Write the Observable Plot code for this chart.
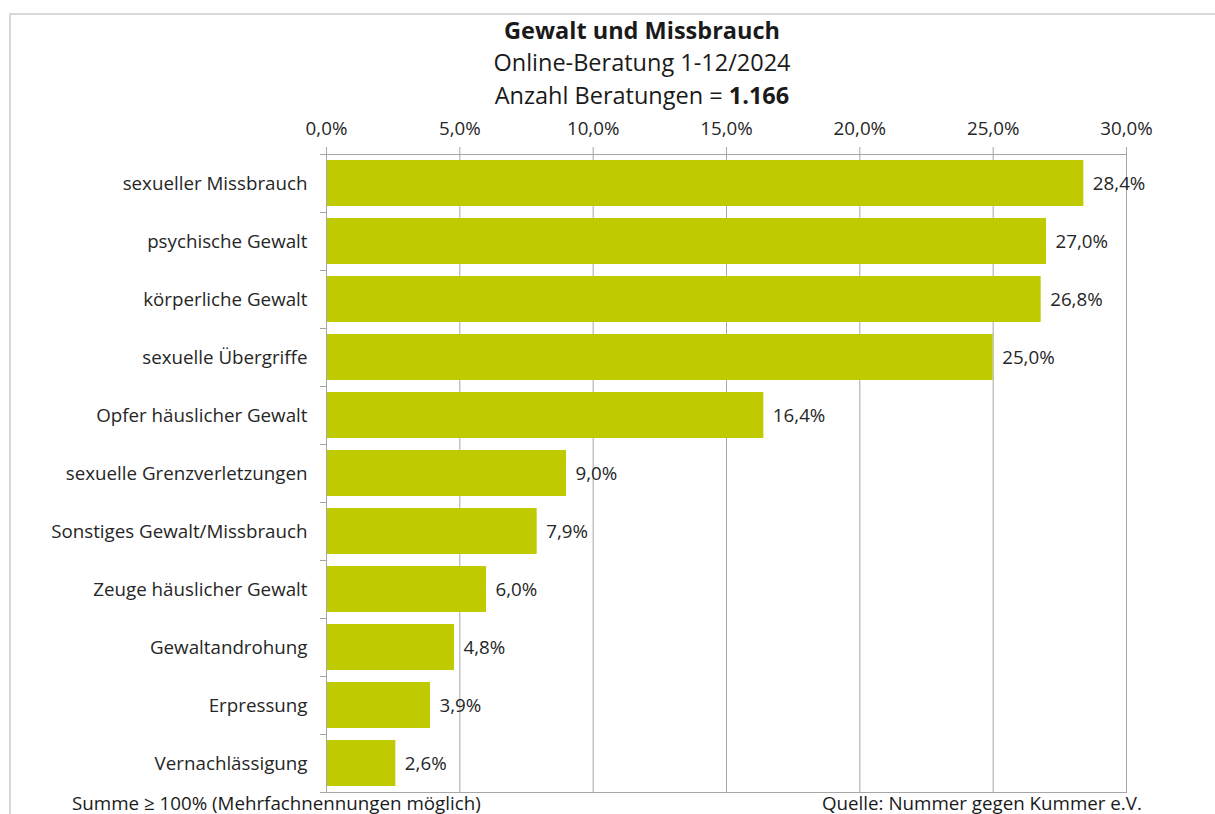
<!DOCTYPE html>
<html>
<head>
<meta charset="utf-8">
<script src="https://cdn.jsdelivr.net/npm/d3@7"></script>
<script src="https://cdn.jsdelivr.net/npm/@observablehq/plot@0.6"></script>
<style>
  html, body { margin: 0; padding: 0; background: #fff; }
  body { width: 1215px; height: 814px; position: relative; overflow: hidden; font-family: "Open Sans", Lato, sans-serif; color: #1a1a1a; }
  #frame { position: absolute; left: 9px; top: 13px; width: 1300px; height: 900px; border: 2px solid #d9d9d9; box-sizing: border-box; }
  .t { position: absolute; left: 0; width: 1284px; text-align: center; font-size: 23.5px; line-height: 28px; }
  #chart { position: absolute; left: 0; top: 100px; }
  .foot { position: absolute; top: 791px; font-size: 18.75px; line-height: 24px; color: #1a1a1a; }
</style>
</head>
<body>
<div id="frame"></div>
<div class="t" style="top:16px;font-weight:bold;">Gewalt und Missbrauch</div>
<div class="t" style="top:48px;">Online-Beratung 1-12/2024</div>
<div class="t" style="top:81px;">Anzahl Beratungen = <b>1.166</b></div>
<div id="chart"></div>
<div class="foot" style="left:72px;">Summe ≥ 100% (Mehrfachnennungen möglich)</div>
<div class="foot" style="left:822px;">Quelle: Nummer gegen Kummer e.V.</div>
<script>
const categories = ["sexueller Missbrauch","psychische Gewalt","körperliche Gewalt","sexuelle Übergriffe","Opfer häuslicher Gewalt","sexuelle Grenzverletzungen","Sonstiges Gewalt/Missbrauch","Zeuge häuslicher Gewalt","Gewaltandrohung","Erpressung","Vernachlässigung"];
const values = [28.4,27.0,26.8,25.0,16.4,9.0,7.9,6.0,4.8,3.9,2.6];
const xTicks = [0,5,10,15,20,25,30];

const data = categories.map((c, i) => ({category: c, value: values[i]}));
const fmt = d => d.toFixed(1).replace(".", ",") + "%";

const W = 1215, H = 714, mT = 54, mB = 22, mL = 326, mR = 89;
const step = (H - mT - mB) / categories.length;
const tickLen = 6 * 30 / (W - mL - mR); // 6px in data units

const plot = Plot.plot({
  width: W, height: H,
  marginTop: mT, marginBottom: mB, marginLeft: mL, marginRight: mR,
  style: {fontFamily: "'Open Sans', Lato, sans-serif", fontSize: "18.75px", color: "#262626", background: "transparent"},
  x: {domain: [0, 30]},
  y: {domain: categories, paddingInner: 0.2, paddingOuter: 0.1},
  marks: [
    Plot.gridX(xTicks, {stroke: "#a6a6a6", strokeOpacity: 1}),
    Plot.barX(data, {y: "category", x: "value", fill: "#bfca00"}),
    Plot.frame({stroke: "#a6a6a6"}),
    Plot.ruleY(categories, {y: d => d, x1: -tickLen, x2: 0, dy: -step / 2, stroke: "#a6a6a6"}),
    Plot.ruleY(categories.slice(-1), {y: d => d, x1: -tickLen, x2: 0, dy: step / 2, stroke: "#a6a6a6"}),
    Plot.axisX(xTicks, {anchor: "top", tickSize: 8, tickPadding: 12, tickFormat: fmt, stroke: "#a6a6a6", fill: "#262626", label: null}),
    Plot.axisY({tickSize: 0, tickPadding: 19, fill: "#262626", label: null}),
    Plot.text(data, {y: "category", x: "value", text: d => fmt(d.value), dx: 9, textAnchor: "start", fill: "#262626"})
  ]
});
document.getElementById("chart").appendChild(plot);
</script>
</body>
</html>
